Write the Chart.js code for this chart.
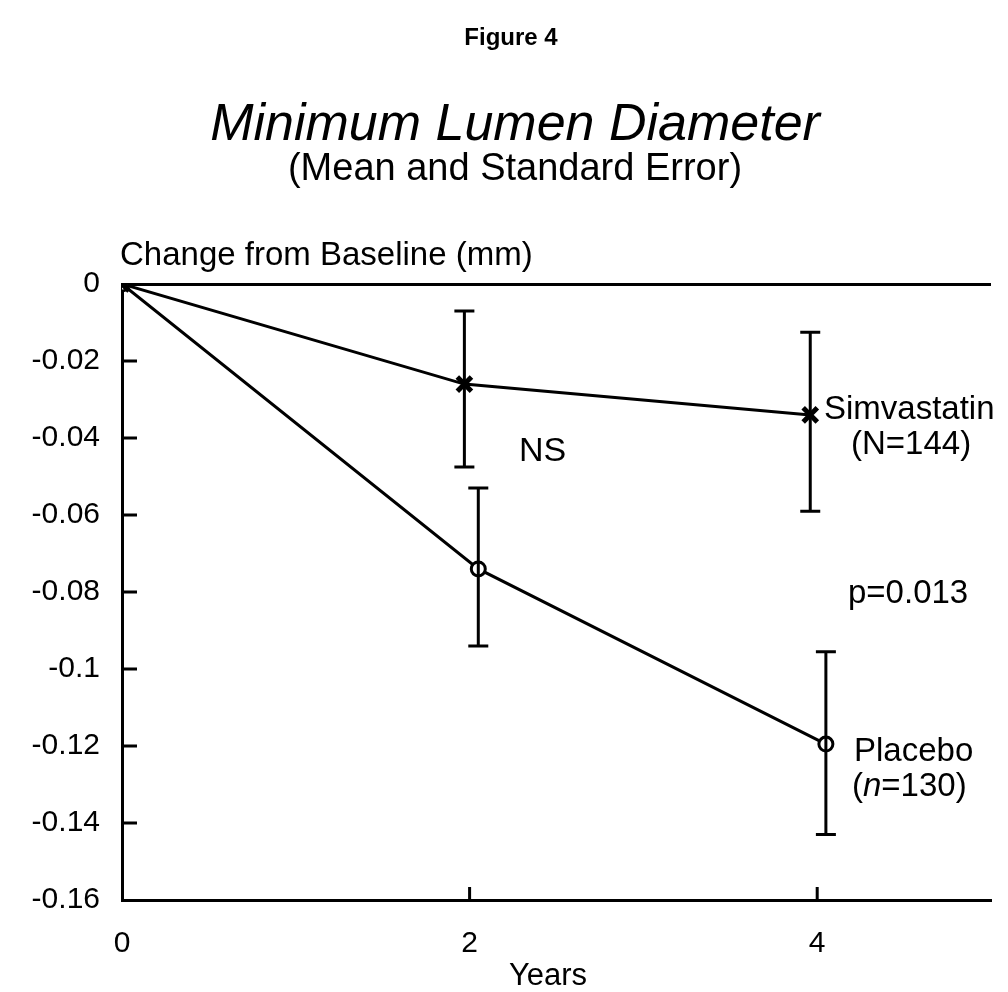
<!DOCTYPE html>
<html>
<head>
<meta charset="utf-8">
<title>Figure 4</title>
<script src="https://cdn.jsdelivr.net/npm/chart.js@4.4.1/dist/chart.umd.min.js"></script>
<style>
  body { margin: 0; background: #fff; }
  canvas { display: block; }
</style>
</head>
<body>
<canvas id="lumen-chart" width="1008" height="992"></canvas>
<script>

// values
const simYears = [0, 1.97, 3.96];
const simMean = [0, -0.026, -0.034];
const simLow = [0, -0.0475, -0.059];
const simHigh = [0, -0.007, -0.0125];

const placYears = [0, 2.05, 4.05];
const placMean = [0, -0.074, -0.1195];
const placLow = [0, -0.094, -0.143];
const placHigh = [0, -0.053, -0.0955];

const xTickValues = [0, 2, 4];
const yTickValues = [0, -0.02, -0.04, -0.06, -0.08, -0.1, -0.12, -0.14, -0.16];
const yTickLabels = ['0', '-0.02', '-0.04', '-0.06', '-0.08', '-0.1', '-0.12', '-0.14', '-0.16'];

const FONT = '"Liberation Sans", Arial, Helvetica, sans-serif';


function toPoints(xs, ys) {
    return xs.map((x, i) => ({ x: x, y: ys[i] }))
}


// error bars with flat caps
const errorBars = {
    id: 'errorBars',
    afterDatasetsDraw(chart) {
        const ctx = chart.ctx;
        const xs = chart.scales.x;
        const ys = chart.scales.y;
        const sets = [[simYears, simLow, simHigh], [placYears, placLow, placHigh]];

        ctx.save();
        ctx.strokeStyle = '#000';
        ctx.lineWidth = 3;
        sets.forEach(([years, low, high]) => {
            years.forEach((yr, i) => {
                if (low[i] === high[i]) return;
                const px = xs.getPixelForValue(yr);
                const top = ys.getPixelForValue(high[i]);
                const bot = ys.getPixelForValue(low[i]);
                ctx.beginPath();
                ctx.moveTo(px, top);
                ctx.lineTo(px, bot);
                ctx.moveTo(px - 10, top);
                ctx.lineTo(px + 10, top);
                ctx.moveTo(px - 10, bot);
                ctx.lineTo(px + 10, bot);
                ctx.stroke();
            })
        })
        ctx.restore();
    }
}


// inward tick marks and all the text
const figureText = {
    id: 'figureText',
    afterDraw(chart) {
        const ctx = chart.ctx;
        const xs = chart.scales.x;
        const ys = chart.scales.y;
        const area = chart.chartArea;

        ctx.save();
        ctx.strokeStyle = '#000';
        ctx.lineWidth = 3;
        ctx.beginPath();
        yTickValues.forEach((v) => {
            if (v === 0 || v === -0.16) return;
            const py = ys.getPixelForValue(v);
            ctx.moveTo(area.left, py);
            ctx.lineTo(area.left + 15, py);
        })
        xTickValues.forEach((v) => {
            if (v === 0) return;
            const px = xs.getPixelForValue(v);
            ctx.moveTo(px, area.bottom);
            ctx.lineTo(px, area.bottom - 13);
        })
        ctx.stroke();

        ctx.fillStyle = '#000';
        ctx.textBaseline = 'middle';

        ctx.textAlign = 'center';
        ctx.font = `bold 24px ${FONT}`;
        ctx.fillText('Figure 4', 511, 38);

        ctx.font = `italic 52px ${FONT}`;
        ctx.fillText('Minimum Lumen Diameter', 515, 126);

        ctx.font = `38px ${FONT}`;
        ctx.fillText('(Mean and Standard Error)', 515, 170);

        ctx.font = `31px ${FONT}`;
        ctx.fillText('Years', 548, 976);

        ctx.textAlign = 'left';
        ctx.font = `33px ${FONT}`;
        ctx.fillText('Change from Baseline (mm)', 120, 256);

        ctx.font = `34px ${FONT}`;
        ctx.fillText('NS', 519, 452);

        ctx.font = `33px ${FONT}`;
        ctx.fillText('p=0.013', 848, 594);

        ctx.font = `33px ${FONT}`;
        ctx.fillText('Simvastatin', 824, 410);
        ctx.fillText('(N=144)', 851, 445);

        ctx.fillText('Placebo', 854, 752);

        // (n=130) with an italic n
        let tx = 852;
        const ty = 787;
        ctx.font = `33px ${FONT}`;
        ctx.fillText('(', tx, ty);
        tx += ctx.measureText('(').width;
        ctx.font = `italic 33px ${FONT}`;
        ctx.fillText('n', tx, ty);
        tx += ctx.measureText('n').width;
        ctx.font = `33px ${FONT}`;
        ctx.fillText('=130)', tx, ty);

        ctx.restore();
    }
}


const ctx = document.getElementById('lumen-chart').getContext('2d');

new Chart(ctx, {
    type: 'scatter',
    data: {
        datasets: [
            {
                label: 'Simvastatin (N=144)',
                data: toPoints(simYears, simMean),
                showLine: true,
                borderColor: '#000',
                borderWidth: 3,
                pointStyle: 'crossRot',
                pointRadius: 10,
                pointBorderWidth: 5,
                pointBorderColor: '#000',
                pointBackgroundColor: '#000'
            },
            {
                label: 'Placebo (n=130)',
                data: toPoints(placYears, placMean),
                showLine: true,
                borderColor: '#000',
                borderWidth: 3,
                pointStyle: 'circle',
                pointRadius: 7,
                pointBorderWidth: 3,
                pointBorderColor: '#000',
                pointBackgroundColor: '#fff'
            }
        ]
    },
    options: {
        responsive: false,
        animation: false,
        layout: {
            padding: { top: 284, right: 17, left: 0, bottom: 0 }
        },
        plugins: {
            legend: { display: false },
            tooltip: { enabled: false },
            title: { display: false }
        },
        scales: {
            x: {
                type: 'linear',
                min: 0,
                max: 5,
                afterFit: (scale) => { scale.height = 92 },
                afterBuildTicks: (scale) => {
                    scale.ticks = xTickValues.map((v) => ({ value: v }))
                },
                grid: { display: false, drawTicks: false },
                border: { display: true, color: '#000', width: 3 },
                ticks: {
                    color: '#000',
                    padding: 26,
                    font: { family: FONT, size: 30 },
                    callback: (v) => String(v)
                }
            },
            y: {
                type: 'linear',
                min: -0.16,
                max: 0,
                afterFit: (scale) => { scale.width = 122 },
                afterBuildTicks: (scale) => {
                    scale.ticks = yTickValues.map((v) => ({ value: v }))
                },
                grid: {
                    drawTicks: false,
                    lineWidth: 3,
                    color: (c) => (c.tick && c.tick.value === 0 ? '#000' : 'rgba(0,0,0,0)')
                },
                border: { display: true, color: '#000', width: 3 },
                ticks: {
                    color: '#000',
                    padding: 22,
                    font: { family: FONT, size: 30 },
                    callback: (v, i) => yTickLabels[i]
                }
            }
        }
    },
    plugins: [errorBars, figureText]
});

</script>
</body>
</html>
